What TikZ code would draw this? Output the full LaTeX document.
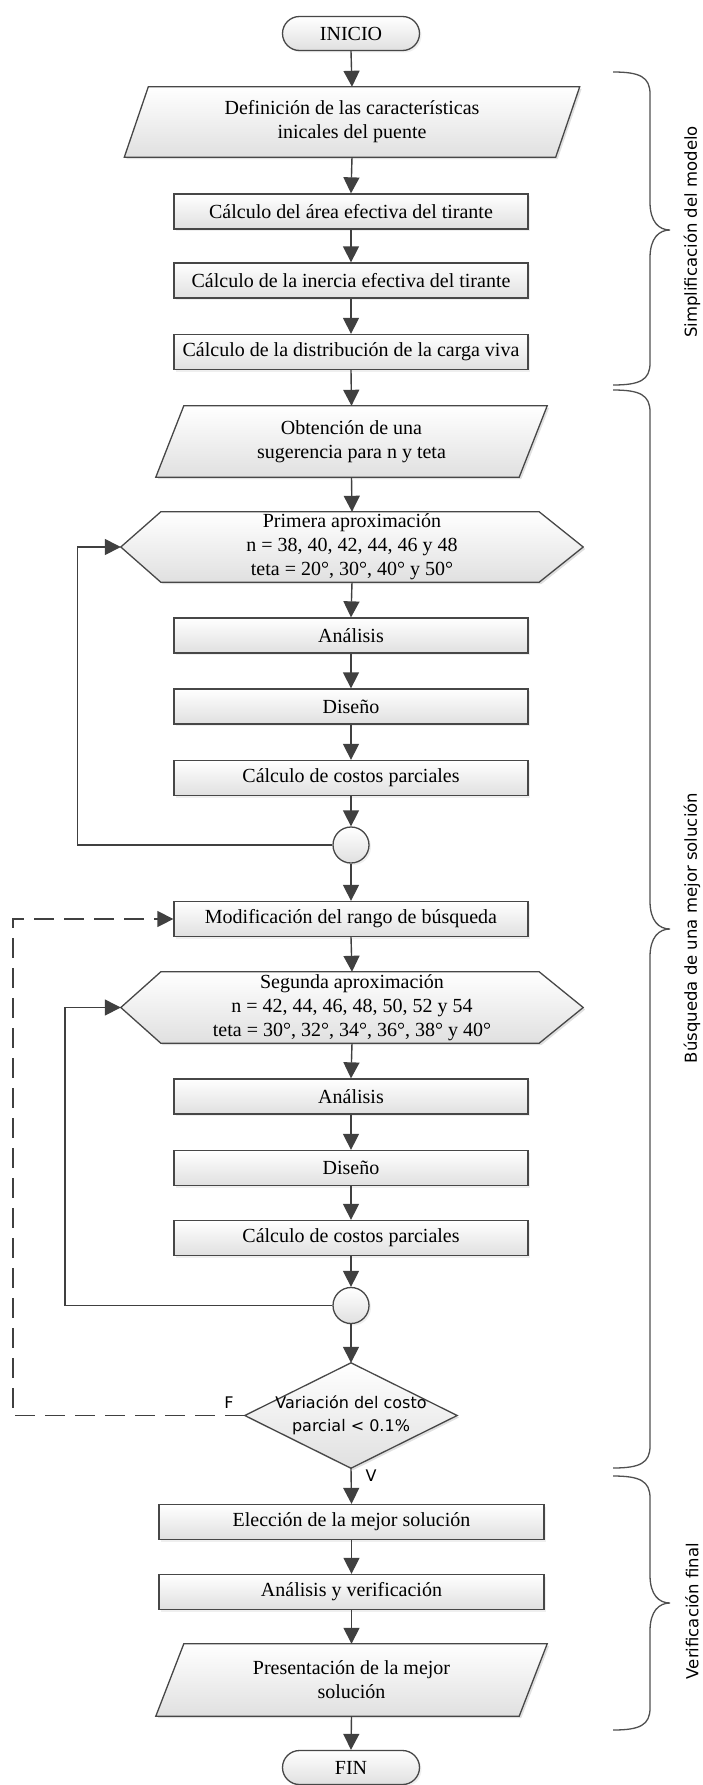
\documentclass[tikz,border=0pt]{standalone}
\usepackage{fontspec}
\setmainfont{Liberation Serif}
\newfontfamily\sansf{DejaVu Sans}
\usetikzlibrary{arrows.meta,calc,shadows}
\pgfdeclarelayer{background}
\pgfsetlayers{background,main}
\definecolor{edgec}{HTML}{474747}
\definecolor{fillb}{HTML}{E0E0E0}
\definecolor{linec}{HTML}{404040}
\definecolor{bracec}{HTML}{505050}
\newcommand{\pgram}[2]{%
  \path[shadowsty] ([xshift=#2]#1.north west) -- ([xshift=#2]#1.north east) -- ([xshift=-#2]#1.south east) -- ([xshift=-#2]#1.south west) -- cycle;
  \path[shapesty] ([xshift=#2]#1.north west) -- ([xshift=#2]#1.north east) -- ([xshift=-#2]#1.south east) -- ([xshift=-#2]#1.south west) -- cycle;}
\newcommand{\hexa}[1]{%
  \path[shadowsty] (#1.west) -- ([xshift=40pt]#1.north west) -- ([xshift=-44pt]#1.north east) -- (#1.east) -- ([xshift=-44pt]#1.south east) -- ([xshift=40pt]#1.south west) -- cycle;
  \path[shapesty] (#1.west) -- ([xshift=40pt]#1.north west) -- ([xshift=-44pt]#1.north east) -- (#1.east) -- ([xshift=-44pt]#1.south east) -- ([xshift=40pt]#1.south west) -- cycle;}
\newcommand{\drawbrace}[3]{%
  \draw[bracesty] (613,#1) .. controls (640,#1) and (650,{#1+5}) .. (650,{#1+22}) -- (650,{#2-28}) .. controls (650,{#2-8}) and (659,#2) .. (670,#2) .. controls (659,#2) and (650,{#2+8}) .. (650,{#2+28}) -- (650,{#3-22}) .. controls (650,{#3-5}) and (640,#3) .. (613,#3);}
\begin{document}
\begin{tikzpicture}[x=1pt,y=-1pt,
  txt/.style={font=\fontsize{20}{24}\selectfont, align=center, text=black, inner sep=0pt},
  procbox/.style={txt, draw=edgec, line width=1.3pt, top color=white, bottom color=fillb,
    minimum width=354pt, minimum height=35pt,
    drop shadow={opacity=0.12, shadow xshift=2pt, shadow yshift=-2pt}},
  term/.style={procbox, rounded corners=17pt, minimum width=137pt, minimum height=34pt},
  shapetxt/.style={txt},
  shapesty/.style={draw=edgec, line width=1.3pt, top color=white, bottom color=fillb},
  shadowsty/.style={fill=black, fill opacity=0.12, draw=none, transform canvas={shift={(2pt,-2pt)}}},
  junc/.style={circle, draw=edgec, line width=1.3pt, top color=white, bottom color=fillb,
    minimum size=36pt, inner sep=0pt, drop shadow={opacity=0.12, shadow xshift=2pt, shadow yshift=-2pt}},
  arr/.style={draw=linec, line width=1.4pt, -{Triangle[length=16pt,width=16pt]}},
  dasharr/.style={arr, dash pattern=on 20pt off 10pt},
  bracesty/.style={draw=bracec, line width=1.3pt},
  bracelab/.style={font=\sansf\fontsize{16.5}{20}\selectfont, rotate=90, text=black, inner sep=0pt},
  lab/.style={font=\sansf\fontsize{16}{20}\selectfont, text=black, inner sep=0pt}
]
\useasboundingbox (0,0) rectangle (702,1785);
\begin{pgfonlayer}{background}
\fill[white] (0,0) rectangle (702,1785);
\end{pgfonlayer}

\node[term] (ini) at (351,33.5) {INICIO};
\node[shapetxt, minimum width=431pt, minimum height=70pt] (p1) at (352,122) {Definición de las características\\inicales del puente};
\node[procbox] (r1) at (351,211.5) {Cálculo del área efectiva del tirante};
\node[procbox] (r2) at (351,280.5) {Cálculo de la inercia efectiva del tirante};
\node[procbox] (r3) at (351,352) {Cálculo de la distribución de la carga viva};
\node[shapetxt, minimum width=363pt, minimum height=71pt] (p2) at (351.5,441.5) {Obtención de una\\sugerencia para n y teta};
\node[shapetxt, minimum width=462pt, minimum height=70pt] (h1) at (352,547) {Primera aproximación\\n = 38, 40, 42, 44, 46 y 48\\teta = 20°, 30°, 40° y 50°};
\node[procbox] (a1) at (351,635.5) {Análisis};
\node[procbox] (d1) at (351,706.5) {Diseño};
\node[procbox] (k1) at (351,778) {Cálculo de costos parciales};
\node[junc] (c1) at (351,845) {};
\node[procbox] (mod) at (351,919) {Modificación del rango de búsqueda};
\node[shapetxt, minimum width=462pt, minimum height=71pt] (h2) at (352,1007.5) {Segunda aproximación\\n = 42, 44, 46, 48, 50, 52 y 54\\teta = 30°, 32°, 34°, 36°, 38° y 40°};
\node[procbox] (a2) at (351,1096.5) {Análisis};
\node[procbox] (d2) at (351,1168) {Diseño};
\node[procbox] (k2) at (351,1238) {Cálculo de costos parciales};
\node[junc] (c2) at (351,1305.5) {};
\node[shapetxt, font=\sansf\fontsize{16}{23}\selectfont, minimum width=212pt, minimum height=105pt] (dia) at (351,1415.5) {Variación del costo\\parcial < 0.1\%};
\node[procbox, minimum width=385pt] (el) at (351.5,1522) {Elección de la mejor solución};
\node[procbox, minimum width=385pt] (av) at (351.5,1592) {Análisis y verificación};
\node[shapetxt, minimum width=363pt, minimum height=72pt] (p3) at (351.5,1680) {Presentación de la mejor\\solución};
\node[term] (fin) at (351,1767.5) {FIN};

\begin{pgfonlayer}{background}
\pgram{p1}{12pt}
\pgram{p2}{14pt}
\pgram{p3}{14pt}
\hexa{h1}
\hexa{h2}
\path[shadowsty] (dia.west) -- (dia.north) -- (dia.east) -- (dia.south) -- cycle;
\path[shapesty] (dia.west) -- (dia.north) -- (dia.east) -- (dia.south) -- cycle;
\end{pgfonlayer}

\draw[arr] (ini.south) -- (p1.north);
\draw[arr] (p1.south) -- (r1.north);
\draw[arr] (r1.south) -- (r2.north);
\draw[arr] (r2.south) -- (r3.north);
\draw[arr] (r3.south) -- (p2.north);
\draw[arr] (p2.south) -- (h1.north);
\draw[arr] (h1.south) -- (a1.north);
\draw[arr] (a1.south) -- (d1.north);
\draw[arr] (d1.south) -- (k1.north);
\draw[arr] (k1.south) -- (c1.north);
\draw[arr] (c1.south) -- (mod.north);
\draw[arr] (c1.west) -- ++(-255,0) |- (h1.west);
\draw[arr] (mod.south) -- (h2.north);
\draw[arr] (h2.south) -- (a2.north);
\draw[arr] (a2.south) -- (d2.north);
\draw[arr] (d2.south) -- (k2.north);
\draw[arr] (k2.south) -- (c2.north);
\draw[arr] (c2.south) -- (dia.north);
\draw[arr] (c2.west) -- ++(-267.5,0) |- (h2.west);
\draw[dasharr] (dia.west) -- ++(-232,0) |- (mod.west);
\draw[arr] (dia.south) -- (el.north);
\draw[arr] (el.south) -- (av.north);
\draw[arr] (av.south) -- (p3.north);
\draw[arr] (p3.south) -- (fin.north);

\node[lab] (fl) at (229,1403) {F};
\node[lab] (vl) at (371,1476) {V};

\drawbrace{72}{230}{385}
\drawbrace{390}{929}{1468}
\drawbrace{1476}{1603}{1730}
\node[bracelab] (lb1) at (692,232) {Simplificación del modelo};
\node[bracelab] (lb2) at (692,928) {Búsqueda de una mejor solución};
\node[bracelab] (lb3) at (692,1611) {Verificación final};
\end{tikzpicture}
\end{document}
